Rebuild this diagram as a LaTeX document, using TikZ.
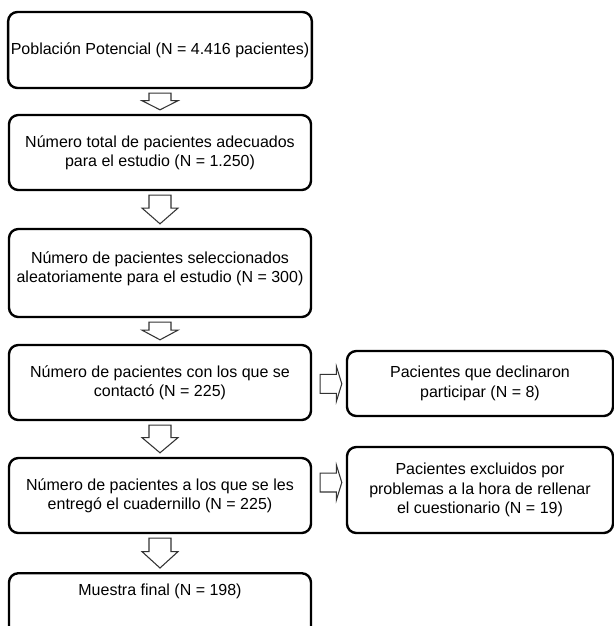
\documentclass[tikz,border=0pt]{standalone}
\usepackage{fontspec}
\setmainfont{Liberation Sans}
\usetikzlibrary{calc}

\tikzset{
  box/.style={draw, line width=1.8pt, rounded corners=7pt, align=center,
    minimum width=226.5pt, inner sep=2pt,
    font=\fontsize{12}{14.6}\selectfont},
  sidebox/.style={box, minimum width=199.5pt},
  % hollow block arrow pointing down
  blockdown/.style={draw=black!80, line width=0.8pt, fill=white,
    to path={let \p1=(\tikztostart), \p2=(\tikztotarget),
      \p3=($(\tikztostart)!0.45!(\tikztotarget)$) in
      (\x1-8.25pt,\y1) -- (\x1-8.25pt,\y3) -- (\x1-13.5pt,\y3) -- (\x1,\y2)
      -- (\x1+13.5pt,\y3) -- (\x1+8.25pt,\y3) -- (\x1+8.25pt,\y1) -- cycle}},
  % hollow block arrow pointing right
  blockright/.style={draw=black!80, line width=0.8pt, fill=white,
    to path={let \p1=(\tikztostart), \p2=(\tikztotarget),
      \p3=($(\tikztostart)!0.75!(\tikztotarget)$) in
      (\x1,\y1+7.1pt) -- (\x3,\y1+7.1pt) -- (\x3,\y1+13.1pt) -- (\x2,\y1)
      -- (\x3,\y1-13.1pt) -- (\x3,\y1-7.1pt) -- (\x1,\y1-7.1pt) -- cycle}}
}

\begin{document}
\begin{tikzpicture}[x=0.75pt,y=-0.75pt]
  \useasboundingbox (0,0) rectangle (614,626);
  \clip (0,0) rectangle (614,626);
  % 1. main column
  \node[box, minimum height=57pt] (b1) at (160,50)
    {Población Potencial (N = 4.416 pacientes)};
  \node[box, minimum height=56.25pt] (b2) at (160,152.5)
    {Número total de pacientes adecuados\\para el estudio (N = 1.250)};
  \node[box, minimum height=66pt, text depth=9pt] (b3) at (160,273)
    {Número de pacientes seleccionados\\aleatoriamente para el estudio (N = 300)};
  \node[box, minimum height=56.25pt] (b4) at (160,382.5)
    {Número de pacientes con los que se\\contactó (N = 225)};
  \node[box, minimum height=56.25pt] (b5) at (160,495.5)
    {Número de pacientes a los que se les\\entregó el cuadernillo (N = 225)};
  % last box runs off the page
  \node[box, anchor=north, inner ysep=8pt, text depth=60pt] (b6) at (160,572)
    {Muestra final (N = 198)};
  % 2. excluded patients
  \node[sidebox, minimum height=48.75pt] (r1) at (480,383.5)
    {Pacientes que declinaron\\participar (N = 8)};
  \node[sidebox, minimum height=64.5pt] (r2) at (480,490)
    {Pacientes excluidos por\\problemas a la hora de rellenar\\el cuestionario (N = 19)};
  % 3. block arrows
  \draw[blockdown] ([yshift=-3pt]b1.south) to ([yshift=3pt]b2.north);
  \draw[blockdown] ([yshift=-3pt]b2.south) to ([yshift=3pt]b3.north);
  \draw[blockdown] ([yshift=-3pt]b3.south) to ([yshift=3pt]b4.north);
  \draw[blockdown] ([yshift=-3pt]b4.south) to ([yshift=3pt]b5.north);
  \draw[blockdown] ([yshift=-3pt]b5.south) to ([yshift=3pt]b6.north);
  \draw[blockright] ([xshift=6pt,yshift=-1pt]b4.east) to ([xshift=-3pt]r1.west);
  \draw[blockright] ([xshift=6pt,yshift=9.75pt]b5.east) to ([xshift=-3pt]r2.west);
\end{tikzpicture}
\end{document}
